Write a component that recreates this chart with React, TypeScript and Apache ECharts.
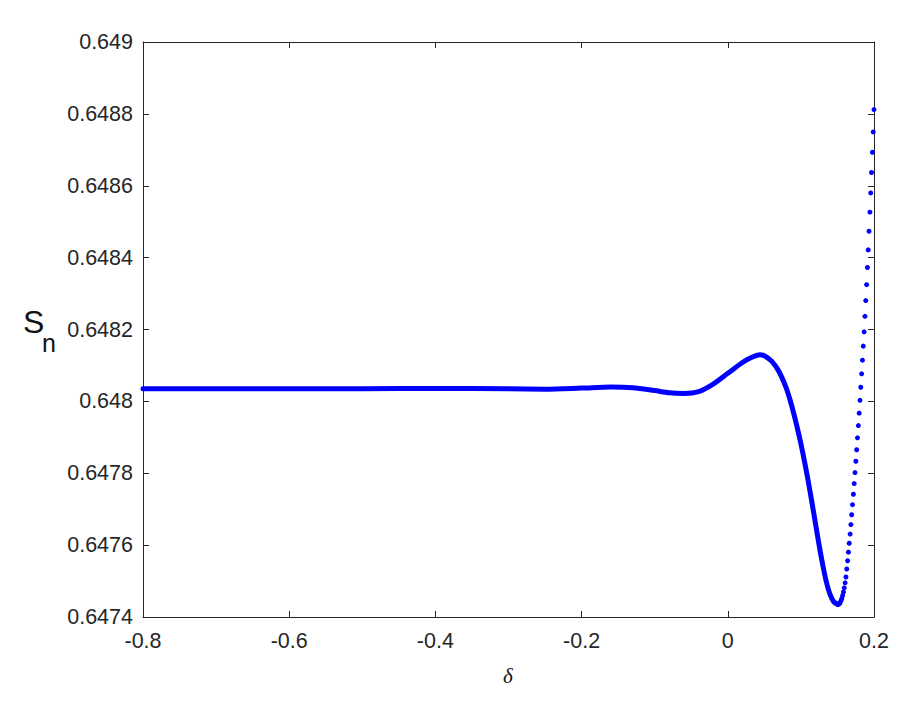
import React, { useEffect, useRef } from "react";
import * as echarts from "echarts";

// Dense (merged) part of the curve: delta values and S_n values
const lineDelta = [-0.8, -0.7, -0.6, -0.5, -0.4, -0.3, -0.25, -0.2, -0.16, -0.13, -0.1, -0.08, -0.06, -0.04, -0.02, 0, 0.02, 0.03, 0.044, 0.05, 0.06, 0.07, 0.08, 0.085, 0.09, 0.095, 0.1, 0.105, 0.11, 0.115, 0.12, 0.125, 0.13, 0.135, 0.14, 0.145, 0.15];
const lineS = [0.648035, 0.648035, 0.648035, 0.648035, 0.648036, 0.648035, 0.648034, 0.648037, 0.64804, 0.648038, 0.64803, 0.648024, 0.648022, 0.648027, 0.648048, 0.648078, 0.648108, 0.64812, 0.64813, 0.648127, 0.648112, 0.648083, 0.648037, 0.648005, 0.647968, 0.647927, 0.647882, 0.647832, 0.647778, 0.64772, 0.647659, 0.647599, 0.647544, 0.647496, 0.647462, 0.647442, 0.647436];

// Rising branch where individual points are visible
const dotDelta = [0.1503, 0.1514, 0.1526, 0.1537, 0.1548, 0.156, 0.1571, 0.1582, 0.1593, 0.1605, 0.1616, 0.1627, 0.1639, 0.165, 0.1661, 0.1673, 0.1684, 0.1695, 0.1706, 0.1718, 0.1729, 0.174, 0.1752, 0.1763, 0.1774, 0.1786, 0.1797, 0.1808, 0.1819, 0.1831, 0.1842, 0.1853, 0.1865, 0.1876, 0.1887, 0.1899, 0.191, 0.1921, 0.1932, 0.1944, 0.1955, 0.1966, 0.1978, 0.1989, 0.2];
const dotS = [0.6474345, 0.647435, 0.647437, 0.6474403, 0.6474453, 0.6474517, 0.6474598, 0.6474695, 0.6474812, 0.6474951, 0.6475112, 0.6475335, 0.6475566, 0.6475805, 0.6476052, 0.6476308, 0.6476572, 0.6476845, 0.6477126, 0.6477415, 0.6477713, 0.6478019, 0.6478333, 0.6478655, 0.6478986, 0.6479326, 0.6479673, 0.6480029, 0.6480394, 0.6480766, 0.6481147, 0.6481537, 0.6481935, 0.6482366, 0.6482805, 0.6483247, 0.6483726, 0.6484215, 0.6484735, 0.6485264, 0.64858, 0.6486368, 0.6486932, 0.6487497, 0.648812];

const xMin = -0.8, xMax = 0.2, xStep = 0.2;
const yMin = 0.6474, yMax = 0.649, yStep = 0.0002;

const AX = "#262626";
const SANS = "'Liberation Sans', Arial, Helvetica, sans-serif";

export default function App() {
  const ref = useRef<HTMLDivElement>(null);
  useEffect(() => {
    if (!ref.current) return;
    const chart = echarts.init(ref.current, undefined, { renderer: "svg" });
    const lineCommon = { onZero: false, lineStyle: { color: AX, width: 1 } };
    const tickIn = { show: true, inside: true, length: 6, lineStyle: { color: AX, width: 1 } };
    chart.setOption({
      animation: false,
      backgroundColor: "#ffffff",
      grid: { left: 143, right: 40, top: 42, bottom: 93, containLabel: false },
      xAxis: [
        {
          type: "value", min: xMin, max: xMax, interval: xStep, position: "bottom",
          axisLine: lineCommon, axisTick: tickIn, splitLine: { show: false },
          axisLabel: {
            color: AX, fontFamily: SANS, fontSize: 21.5, margin: 13,
            formatter: (v: number) => String(parseFloat(v.toFixed(1))),
          },
        },
        {
          type: "value", min: xMin, max: xMax, interval: xStep, position: "top",
          axisLine: lineCommon, axisTick: tickIn, splitLine: { show: false }, axisLabel: { show: false },
        },
      ],
      yAxis: [
        {
          type: "value", min: yMin, max: yMax, interval: yStep, position: "left",
          axisLine: lineCommon, axisTick: tickIn, splitLine: { show: false },
          axisLabel: {
            color: AX, fontFamily: SANS, fontSize: 21.5, margin: 10,
            formatter: (v: number) => String(parseFloat(v.toFixed(4))),
          },
        },
        {
          type: "value", min: yMin, max: yMax, interval: yStep, position: "right",
          axisLine: lineCommon, axisTick: tickIn, splitLine: { show: false }, axisLabel: { show: false },
        },
      ],
      graphic: [
        { type: "text", left: 23, top: 306, style: { text: "S", fontFamily: SANS, fontSize: 32, fill: "#111" } },
        { type: "text", left: 42, top: 330, style: { text: "n", fontFamily: SANS, fontSize: 25, fill: "#111" } },
        { type: "text", left: 503, top: 665, style: { text: "δ", fontFamily: "'Liberation Serif', 'Times New Roman', serif", fontStyle: "italic", fontSize: 21, fill: "#111" } },
      ],
      series: [
        {
          type: "line", xAxisIndex: 0, yAxisIndex: 0,
          data: lineDelta.map((d, i) => [d, lineS[i]]),
          smooth: 0.3, showSymbol: false,
          lineStyle: { color: "#0000ff", width: 5, cap: "round", join: "round", opacity: 1 },
        },
        {
          type: "scatter", xAxisIndex: 0, yAxisIndex: 0, clip: false,
          data: dotDelta.map((d, i) => [d, dotS[i]]),
          symbolSize: 5, itemStyle: { color: "#0000ff", opacity: 1 },
        },
      ],
    });
    return () => chart.dispose();
  }, []);
  return <div ref={ref} style={{ position: "fixed", left: 0, top: 0, width: 914, height: 710 }} />;
}
